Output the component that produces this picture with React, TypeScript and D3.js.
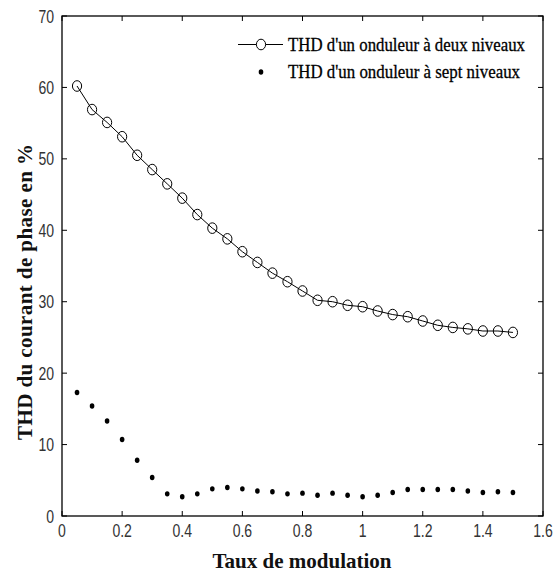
import React from "react";
import * as d3 from "d3";

const xValues = [0.05,0.1,0.15,0.2,0.25,0.3,0.35,0.4,0.45,0.5,0.55,0.6,0.65,0.7,0.75,0.8,0.85,0.9,0.95,1.0,1.05,1.1,1.15,1.2,1.25,1.3,1.35,1.4,1.45,1.5];
const twoLevel = [60.2,56.9,55.1,53.1,50.5,48.5,46.5,44.5,42.2,40.3,38.8,37.0,35.5,34.0,32.8,31.5,30.2,30.0,29.5,29.3,28.7,28.2,27.9,27.3,26.7,26.4,26.2,25.9,25.9,25.7];
const sevenLevel = [17.3,15.4,13.3,10.7,7.8,5.4,3.1,2.7,3.1,3.8,4.0,3.8,3.5,3.4,3.1,3.2,2.9,3.2,2.9,2.7,2.9,3.3,3.7,3.7,3.7,3.7,3.5,3.3,3.4,3.3];
const xTicks = [0,0.2,0.4,0.6,0.8,1,1.2,1.4,1.6];
const yTicks = [0,10,20,30,40,50,60,70];
const legendLabels = ["THD d'un onduleur à deux niveaux", "THD d'un onduleur à sept niveaux"];
const xTitle = "Taux de modulation";
const yTitle = "THD du courant de phase en %";

const W = 558, H = 576;
const L = 62, R = 543, T = 16, B = 516;
const tickFont = "Liberation Sans";
const serif = "Liberation Serif";

export default function App() {
  const x = d3.scaleLinear().domain([0, 1.6]).range([L, R]);
  const y = d3.scaleLinear().domain([0, 70]).range([B, T]);
  const line = d3.line<number>().x((_, i) => x(xValues[i])).y((d) => y(d));
  const tk = 5;
  const sx = 0.78;
  return (
    <svg width={W} height={H} style={{ position: "absolute", left: 0, top: 0, background: "#fff" }}>
      <rect x={0} y={0} width={W} height={H} fill="#fff" />
      {xTicks.map((t, i) => (
        <g key={"xt" + i}>
          <line x1={x(t)} x2={x(t)} y1={B} y2={B - tk} stroke="#000" strokeWidth={1} />
          <line x1={x(t)} x2={x(t)} y1={T} y2={T + tk} stroke="#000" strokeWidth={1} />
          <text transform={`translate(${x(t)},537) scale(${sx},1)`} textAnchor="middle" fontFamily={tickFont} fontSize={18} fill="#333">{String(t)}</text>
        </g>
      ))}
      {yTicks.map((t, i) => (
        <g key={"yt" + i}>
          <line x1={L} x2={L + tk} y1={y(t)} y2={y(t)} stroke="#000" strokeWidth={1} />
          <line x1={R} x2={R - tk} y1={y(t)} y2={y(t)} stroke="#000" strokeWidth={1} />
          <text transform={`translate(54,${y(t) + 6.5}) scale(${sx},1)`} textAnchor="end" fontFamily={tickFont} fontSize={18} fill="#333">{String(t)}</text>
        </g>
      ))}
      <rect x={L} y={T} width={R - L} height={B - T} fill="none" stroke="#000" strokeWidth={1.3} />
      <path d={line(twoLevel) || ""} fill="none" stroke="#000" strokeWidth={1} />
      {twoLevel.map((v, i) => (
        <ellipse key={"c" + i} cx={x(xValues[i])} cy={y(v)} rx={4.6} ry={5.3} fill="none" stroke="#000" strokeWidth={1} />
      ))}
      {sevenLevel.map((v, i) => (
        <ellipse key={"d" + i} cx={x(xValues[i])} cy={y(v)} rx={2.3} ry={2.7} fill="#000" />
      ))}
      <line x1={238} x2={283} y1={44.5} y2={44.5} stroke="#000" strokeWidth={1} />
      <ellipse cx={261} cy={44.5} rx={4.6} ry={5.3} fill="#fff" stroke="#000" strokeWidth={1} />
      <ellipse cx={261} cy={72} rx={2.3} ry={2.7} fill="#000" />
      <text x={288} y={50.5} fontFamily={serif} fontSize={19} textLength={237} lengthAdjust="spacingAndGlyphs" fill="#000" stroke="#000" strokeWidth={0.3}>{legendLabels[0]}</text>
      <text x={288} y={78} fontFamily={serif} fontSize={19} textLength={232} lengthAdjust="spacingAndGlyphs" fill="#000" stroke="#000" strokeWidth={0.3}>{legendLabels[1]}</text>
      <text x={302} y={568} textAnchor="middle" fontFamily={serif} fontWeight="bold" fontSize={21} fill="#111">{xTitle}</text>
      <text transform="translate(32,292) rotate(-90)" textAnchor="middle" fontFamily={serif} fontWeight="bold" fontSize={21} textLength={296} lengthAdjust="spacing" fill="#111">{yTitle}</text>
    </svg>
  );
}
